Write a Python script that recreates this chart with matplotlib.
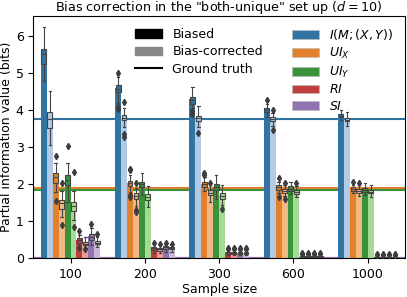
import matplotlib.pyplot as plt
from matplotlib.patches import Patch
from matplotlib.lines import Line2D

sample_sizes = ["100", "200", "300", "600", "1000"]
series = ["I b", "I c", "UIX b", "UIX c", "UIY b", "UIY c", "RI b", "RI c", "SI b", "SI c"]
colors = ["#3274a1", "#b3c9e4", "#e1812c", "#f2b985", "#3a923a", "#a5d994",
          "#c03d3e", "#f09a98", "#9372b2", "#c8b7d6"]
pid_labels = ["$I(M;(X,Y))$", "$UI_X$", "$UI_Y$", "$RI$", "$SI$"]
ground_truth = [3.75, 1.90, 1.845, 0.0, 0.0]

# bar heights (means) per series, one value per sample size
means = [
    [5.58, 4.60, 4.30, 4.04, 3.88],
    [3.76, 3.78, 3.77, 3.76, 3.74],
    [2.22, 2.03, 2.00, 1.92, 1.88],
    [1.47, 1.70, 1.78, 1.82, 1.82],
    [2.18, 2.00, 1.93, 1.88, 1.85],
    [1.42, 1.67, 1.70, 1.79, 1.80],
    [0.50, 0.27, 0.16, 0.05, 0.03],
    [0.42, 0.25, 0.15, 0.05, 0.03],
    [0.60, 0.31, 0.15, 0.05, 0.03],
    [0.43, 0.28, 0.15, 0.05, 0.03],
]
medians = [
    [5.51, 4.57, 4.27, 4.00, 3.85],
    [3.76, 3.79, 3.78, 3.75, 3.74],
    [2.19, 2.02, 2.00, 1.92, 1.88],
    [1.48, 1.68, 1.77, 1.82, 1.82],
    [2.12, 2.00, 1.92, 1.88, 1.85],
    [1.41, 1.66, 1.69, 1.79, 1.79],
    [0.49, 0.27, 0.16, 0.05, 0.03],
    [0.40, 0.25, 0.15, 0.05, 0.03],
    [0.58, 0.30, 0.15, 0.05, 0.03],
    [0.42, 0.28, 0.15, 0.05, 0.03],
]
q1 = [
    [5.24, 4.48, 4.17, 3.94, 3.81],
    [3.52, 3.72, 3.70, 3.70, 3.69],
    [2.04, 1.95, 1.92, 1.85, 1.82],
    [1.34, 1.61, 1.70, 1.76, 1.76],
    [1.97, 1.92, 1.84, 1.82, 1.79],
    [1.27, 1.57, 1.61, 1.73, 1.76],
    [0.42, 0.22, 0.13, 0.04, 0.02],
    [0.36, 0.20, 0.12, 0.04, 0.02],
    [0.49, 0.25, 0.12, 0.04, 0.02],
    [0.38, 0.24, 0.12, 0.04, 0.02],
]
q3 = [
    [5.65, 4.66, 4.36, 4.06, 3.90],
    [3.94, 3.87, 3.85, 3.81, 3.79],
    [2.30, 2.09, 2.06, 1.97, 1.92],
    [1.57, 1.75, 1.84, 1.88, 1.88],
    [2.26, 2.06, 2.00, 1.94, 1.89],
    [1.52, 1.73, 1.76, 1.85, 1.85],
    [0.54, 0.30, 0.18, 0.06, 0.04],
    [0.45, 0.28, 0.17, 0.06, 0.04],
    [0.67, 0.33, 0.17, 0.06, 0.04],
    [0.47, 0.31, 0.17, 0.06, 0.04],
]
whis_lo = [
    [4.77, 4.20, 4.05, 3.81, 3.72],
    [3.05, 3.55, 3.54, 3.58, 3.56],
    [1.79, 1.80, 1.82, 1.75, 1.77],
    [1.12, 1.40, 1.52, 1.68, 1.67],
    [1.52, 1.70, 1.61, 1.73, 1.70],
    [1.03, 1.39, 1.43, 1.66, 1.66],
    [0.36, 0.15, 0.10, 0.02, 0.01],
    [0.27, 0.14, 0.09, 0.02, 0.01],
    [0.36, 0.18, 0.09, 0.02, 0.01],
    [0.30, 0.18, 0.09, 0.02, 0.01],
]
whis_hi = [
    [6.23, 4.88, 4.61, 4.15, 4.00],
    [4.50, 4.05, 4.10, 3.92, 3.94],
    [2.57, 2.25, 2.20, 2.06, 1.98],
    [1.82, 1.90, 1.97, 1.97, 1.97],
    [2.57, 2.30, 2.24, 2.06, 2.02],
    [1.82, 1.95, 1.97, 1.95, 1.97],
    [0.63, 0.36, 0.22, 0.09, 0.05],
    [0.58, 0.35, 0.22, 0.09, 0.05],
    [0.81, 0.40, 0.22, 0.09, 0.05],
    [0.58, 0.36, 0.22, 0.09, 0.05],
]
fliers = [
    [[], [5.0, 4.08, 4.03], [3.97, 3.90], [4.26], []],
    [[], [4.21, 3.35, 3.27], [3.39], [3.99, 3.45], []],
    [[2.75, 1.54], [2.42, 2.38, 1.70, 1.66], [2.31, 2.24], [2.18, 1.66], [2.06]],
    [[2.02, 0.90], [2.02, 1.30, 1.25], [2.02], [2.02, 1.60], [2.02]],
    [[3.03], [], [], [], []],
    [[2.33, 0.85], [], [1.34], [2.02], []],
    [[0.74, 0.28], [0.42], [0.24, 0.28], [0.12, 0.15], [0.08, 0.11]],
    [[0.24], [0.40], [0.24, 0.28], [0.12, 0.15], [0.08, 0.11]],
    [[0.94], [0.42], [0.24, 0.28], [0.12, 0.15], [0.08, 0.11]],
    [[0.67], [0.40], [0.24, 0.28], [0.12, 0.15], [0.08, 0.11]],
]

fig = plt.figure(figsize=(4.07, 2.97), dpi=100)
ax = fig.add_axes([0.082, 0.13, 0.913, 0.817])

# ground truth lines (behind bars)
for gt, c in zip(ground_truth, colors[0::2]):
    ax.axhline(gt, color=c, lw=1.5, zorder=1)

bw = 0.08
for i in range(len(series)):
    xs = [g - 0.36 + bw * i for g in range(len(sample_sizes))]
    ax.bar(xs, means[i], width=bw, color=colors[i], zorder=2)
    stats = []
    for g in range(len(sample_sizes)):
        stats.append(dict(med=medians[i][g], q1=q1[i][g], q3=q3[i][g],
                          whislo=whis_lo[i][g], whishi=whis_hi[i][g],
                          fliers=fliers[i][g]))
    ax.bxp(stats, positions=xs, widths=0.065, patch_artist=True, manage_ticks=False,
           boxprops=dict(facecolor=colors[i], edgecolor="#444444", lw=0.8),
           medianprops=dict(color="#444444", lw=0.8),
           whiskerprops=dict(color="#444444", lw=0.8),
           capprops=dict(color="#444444", lw=0.8),
           flierprops=dict(marker="d", markerfacecolor="#3d3d3d",
                           markeredgecolor="#3d3d3d", markersize=3.2),
           zorder=3)

ax.set_xlim(-0.5, 4.5)
ax.set_ylim(0, 6.54)
ax.set_xticks(range(len(sample_sizes)))
ax.set_xticklabels(sample_sizes)
ax.set_yticks(range(7))
ax.tick_params(labelsize=9)
ax.set_xlabel("Sample size", fontsize=9, labelpad=1)
ax.set_ylabel("Partial information value (bits)", fontsize=9, labelpad=2)
ax.set_title('Bias correction in the "both-unique" set up ($d=10$)', fontsize=9.2, pad=2)

h1 = [Patch(color="black"), Patch(color="#888888"), Line2D([], [], color="black", lw=1.5)]
leg1 = ax.legend(h1, ["Biased", "Bias-corrected", "Ground truth"], loc="upper left",
                 bbox_to_anchor=(0.26, 0.97), frameon=False, fontsize=9,
                 handlelength=2.2, labelspacing=0.35, borderaxespad=0)
ax.add_artist(leg1)
h2 = [Patch(facecolor=c, edgecolor="#bbbbbb", lw=0.5) for c in colors[0::2]]
ax.legend(h2, pid_labels, loc="upper left", bbox_to_anchor=(0.665, 1.0),
          frameon=False, fontsize=9, handlelength=2.2, labelspacing=0.3)

fig.savefig("out.png", dpi=100)
